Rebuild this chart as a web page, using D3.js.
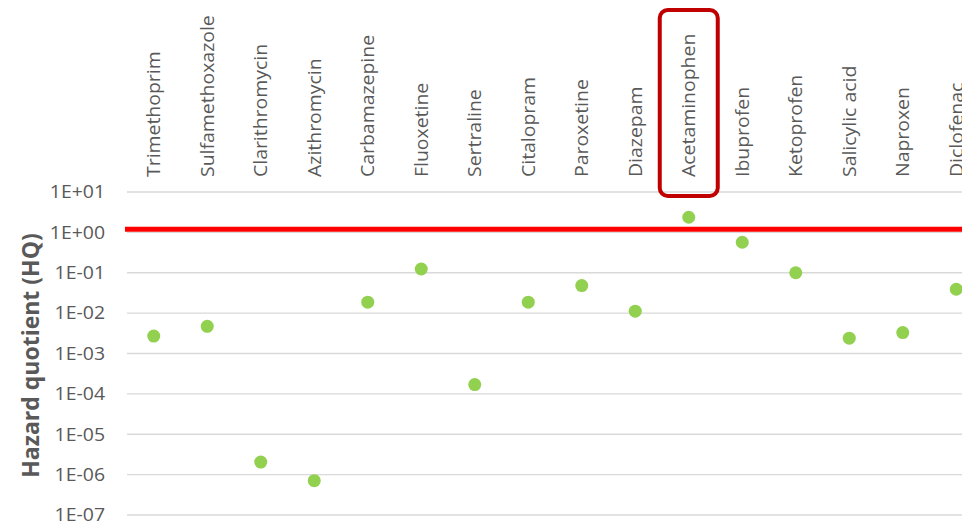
<!DOCTYPE html>
<html><head><meta charset="utf-8">
<script src="https://cdn.jsdelivr.net/npm/d3@7"></script>
<style>body{margin:0;background:#fff}svg{display:block}</style>
</head><body>
<svg id="c" width="962" height="522"></svg>
<script>
const categories = ["Trimethoprim","Sulfamethoxazole","Clarithromycin","Azithromycin","Carbamazepine","Fluoxetine","Sertraline","Citalopram","Paroxetine","Diazepam","Acetaminophen","Ibuprofen","Ketoprofen","Salicylic acid","Naproxen","Diclofenac"];
const hqValues = [2.7e-3, 4.7e-3, 2.05e-6, 7.1e-7, 1.87e-2, 0.124, 1.7e-4, 1.87e-2, 0.048, 0.0112, 2.37, 0.57, 0.1, 2.4e-3, 3.3e-3, 0.039];
const tickValues = [1e1, 1e0, 1e-1, 1e-2, 1e-3, 1e-4, 1e-5, 1e-6, 1e-7];
const tickLabels = ["1E+01","1E+00","1E-01","1E-02","1E-03","1E-04","1E-05","1E-06","1E-07"];
const threshold = 1.2;
const highlighted = "Acetaminophen";
const yTitle = "Hazard quotient (HQ)";

(function () {
const svg = d3.select("#c");
const left = 127, bandW = 53.5, plotTop = 192, plotBottom = 515;
const x = d3.scaleBand().domain(categories).range([left, left + bandW * categories.length]).padding(0);
const y = d3.scaleLog().domain([1e-7, 1e1]).range([plotBottom, plotTop]);
const font = "'Open Sans', sans-serif";

// gridlines
svg.append("g").selectAll("line").data(tickValues).join("line")
  .attr("x1", left).attr("x2", x.range()[1])
  .attr("y1", d => y(d)).attr("y2", d => y(d))
  .attr("stroke", "#d9d9d9").attr("stroke-width", 1.3);

// y axis labels
const yAxis = d3.axisLeft(y).tickValues(tickValues).tickFormat((d, i) => tickLabels[i]).tickSize(0).tickPadding(0);
const ya = svg.append("g").attr("transform", `translate(105,0)`).call(yAxis);
ya.select(".domain").remove();
ya.selectAll("text").attr("x", 0).attr("transform", "scale(1.08,1)")
  .attr("font-family", font).attr("font-size", 18).attr("fill", "#595959");

// y title
svg.append("text").attr("transform", `translate(30,${(plotTop + plotBottom) / 2 + 2}) rotate(-90)`)
  .attr("text-anchor", "middle").attr("dominant-baseline", "central")
  .attr("font-family", font).attr("font-weight", "bold").attr("font-size", 23).attr("fill", "#595959")
  .text(yTitle);

// category labels (top axis)
const xAxis = d3.axisTop(x).tickSize(0).tickPadding(0);
const xa = svg.append("g").attr("transform", `translate(0,177)`).call(xAxis);
xa.select(".domain").remove();
xa.selectAll("text").attr("transform", "rotate(-90) scale(1.08,1)").attr("text-anchor", "start")
  .attr("x", 0).attr("y", 0).attr("dy", "0.35em")
  .attr("font-family", font).attr("font-size", 18).attr("fill", "#595959");

// threshold line
svg.append("line").attr("x1", 125).attr("x2", 962)
  .attr("y1", y(threshold)).attr("y2", y(threshold))
  .attr("stroke", "#ff0000").attr("stroke-width", 5);

// points
svg.append("g").selectAll("circle").data(categories).join("circle")
  .attr("cx", d => x(d) + x.bandwidth() / 2)
  .attr("cy", (d, i) => y(hqValues[i]))
  .attr("r", 6.5).attr("fill", "#92d050");

// highlight box
const hx = x(highlighted) + x.bandwidth() / 2;
svg.append("rect").attr("x", hx - 29).attr("y", 10).attr("width", 58).attr("height", 186)
  .attr("rx", 8).attr("fill", "none").attr("stroke", "#c00000").attr("stroke-width", 4);
})();
</script>
</body></html>
